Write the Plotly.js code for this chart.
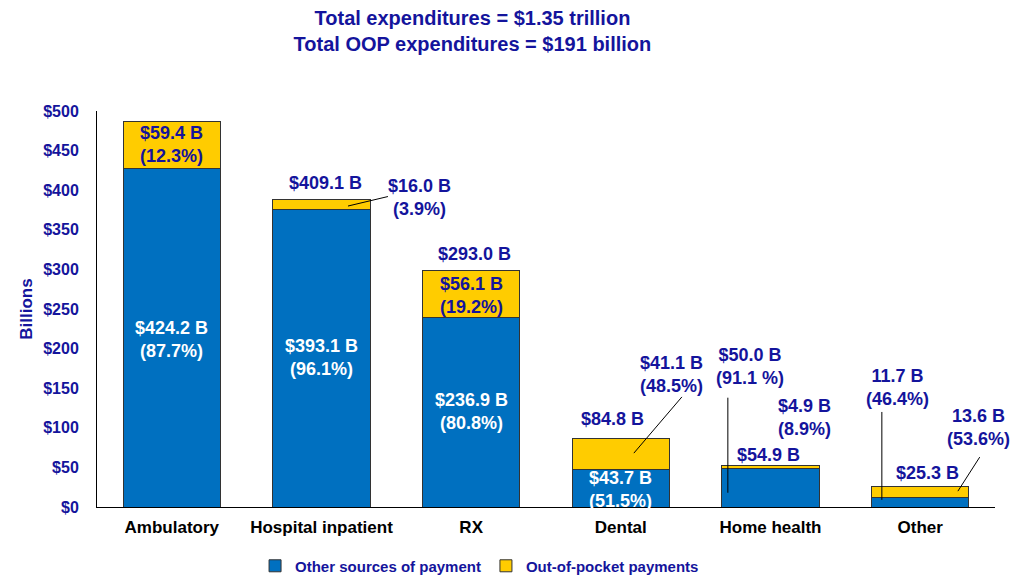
<!DOCTYPE html>
<html>
<head>
<meta charset="utf-8">
<script src="https://cdn.plot.ly/plotly-3.0.1.min.js"></script>
<style>html,body{margin:0;padding:0;background:#fff}#chart{width:1016px;height:577px}</style>
</head>
<body>
<div id="chart"></div>
<script>
// ---- data ----
const categories = ['Ambulatory', 'Hospital inpatient', 'RX', 'Dental', 'Home health', 'Other'];
const otherSources = [427, 376, 239, 47, 49, 12.3];   // drawn bar heights (billions)
const outOfPocket  = [60, 12, 59, 39, 3.3, 13];
const totalLabels  = ['$483.7 B', '$409.1 B', '$293.0 B', '$84.8 B', '$54.9 B', '$25.3 B'];
const otherLabels  = ['$424.2 B<br>(87.7%)', '$393.1 B<br>(96.1%)', '$236.9 B<br>(80.8%)', '$43.7 B<br>(51.5%)', '$50.0 B<br>(91.1 %)', '11.7 B<br>(46.4%)'];
const oopLabels    = ['$59.4 B<br>(12.3%)', '$16.0 B<br>(3.9%)', '$56.1 B<br>(19.2%)', '$41.1 B<br>(48.5%)', '$4.9 B<br>(8.9%)', '13.6 B<br>(53.6%)'];
const seriesNames  = ['Other sources of payment', 'Out-of-pocket payments'];

// ---- styling / placement ----
const NAVY = '#14149C';
const BLUE = '#0070C0';
const GOLD = '#FFCC00';
const FONT = 'Arial, "Liberation Sans", sans-serif';

// label placement (category index, y in data units)
const totalPos = [[0.12, 507], [1.03, 409], [2.025, 320], [2.947, 111], [3.989, 66], [5.051, 43]];
const otherPos = [[0, 211], [1, 189], [2, 120], [3, 21.5], [3.862, 177], [4.851, 151]];
const otherWhite = [true, true, true, true, false, false];
const oopPos   = [[0, 458], [1.658, 391], [2, 267], [3.341, 167], [4.229, 113], [5.392, 100]];
const leaders = [
  [1.177, 380, 1.444, 392],
  [3.087, 68, 3.408, 139],
  [3.715, 18, 3.715, 138],
  [4.744, 9, 4.744, 120],
  [5.252, 20, 5.398, 63]
];

const traces = [
  {type: 'bar', name: seriesNames[0], x: categories, y: otherSources,
   marker: {color: BLUE, line: {color: '#333', width: 1}}, hoverinfo: 'x+y'},
  {type: 'bar', name: seriesNames[1], x: categories, y: outOfPocket,
   marker: {color: GOLD, line: {color: '#333', width: 1}}, hoverinfo: 'x+y'}
];

const annotations = [];
const txt = (x, y, text, color) => ({
  xref: 'x', yref: 'y', x: x, y: y, text: text, showarrow: false,
  xanchor: 'center', yanchor: 'middle',
  font: {family: FONT, size: 18, color: color, weight: 'bold'}
});
categories.forEach((c, i) => {
  annotations.push(txt(totalPos[i][0], totalPos[i][1], totalLabels[i], NAVY));
  annotations.push(txt(otherPos[i][0], otherPos[i][1], otherLabels[i], otherWhite[i] ? '#FFFFFF' : NAVY));
  annotations.push(txt(oopPos[i][0], oopPos[i][1], oopLabels[i], NAVY));
});

const shapes = leaders.map(l => ({
  type: 'line', xref: 'x', yref: 'y', x0: l[0], y0: l[1], x1: l[2], y1: l[3],
  line: {color: '#000', width: 1}
}));

const layout = {
  width: 1016, height: 577,
  margin: {l: 97, r: 21, t: 111, b: 70, autoexpand: false},
  paper_bgcolor: '#fff', plot_bgcolor: '#fff',
  font: {family: FONT, color: NAVY, weight: 'bold'},
  barmode: 'stack', bargap: 0.35,
  title: {
    text: 'Total expenditures = $1.35 trillion<br>Total OOP expenditures = $191 billion',
    xref: 'container', x: 0.465, xanchor: 'center',
    yref: 'container', y: 0.956, yanchor: 'middle',
    font: {family: FONT, size: 20, color: NAVY, weight: 'bold'}
  },
  xaxis: {
    type: 'category', range: [-0.5, 5.5], autorange: false,
    showgrid: false, zeroline: false,
    showline: true, linecolor: '#000', linewidth: 1,
    ticks: '', ticklabelstandoff: 5, automargin: false,
    tickfont: {family: FONT, size: 17, color: '#000', weight: 'bold'}
  },
  yaxis: {
    range: [0, 500], autorange: false, dtick: 50, tickprefix: '$', showgrid: false, zeroline: false,
    showline: true, linecolor: '#000', linewidth: 1,
    ticks: '', ticklabelstandoff: 14, automargin: false,
    tickfont: {family: FONT, size: 16, color: NAVY, weight: 'bold'},
    title: {text: 'Billions', standoff: 6, font: {family: FONT, size: 17, color: NAVY, weight: 'bold'}}
  },
  legend: {
    orientation: 'h', xref: 'paper', x: 0.176, xanchor: 'left',
    yref: 'container', y: 0.019, yanchor: 'middle',
    font: {family: FONT, size: 15, color: NAVY, weight: 'bold'},
    traceorder: 'normal', itemclick: false
  },
  showlegend: true,
  annotations: annotations,
  shapes: shapes
};

Plotly.newPlot('chart', traces, layout, {displayModeBar: false, staticPlot: true});
</script>
</body>
</html>
